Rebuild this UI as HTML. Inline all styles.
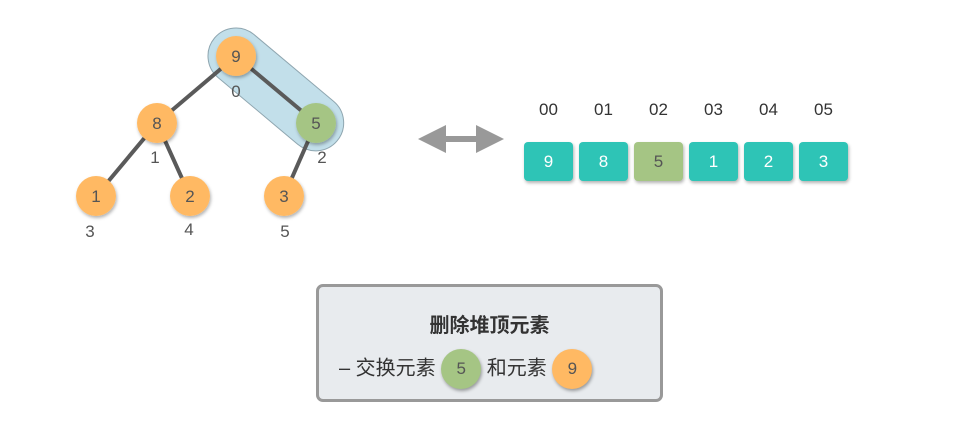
<!DOCTYPE html>
<html><head><meta charset="utf-8"><style>
body{margin:0;width:980px;height:443px;background:#fff;overflow:hidden;font-family:"Liberation Sans","Noto Sans CJK SC",sans-serif}
.box{position:absolute;top:142px;width:49px;height:39px;border-radius:4px;background:#2ec4b6;color:#fff;font-size:17px;line-height:39px;text-align:center;box-shadow:1px 2px 3px rgba(0,0,0,.3)}
.idx{position:absolute;top:100px;width:49px;text-align:center;font-size:17px;color:#333}
.panel{position:absolute;left:316px;top:284px;width:341px;height:112px;border:3px solid #999;border-radius:7px;background:#e8ebee}
.c{display:inline-block;width:40px;height:40px;border-radius:50%;text-align:center;line-height:40px;font-size:17px;color:#555;vertical-align:middle;box-shadow:1px 2px 3px rgba(0,0,0,.35)}
</style></head><body>
<svg width="980" height="443" style="position:absolute;left:0;top:0">
<defs><filter id="s" x="-30%" y="-30%" width="160%" height="160%"><feDropShadow dx="1" dy="2" stdDeviation="1.5" flood-opacity="0.3"/></filter></defs>
<rect x="-28" y="-28" width="160" height="56" rx="28" transform="translate(236,56) rotate(40)" fill="#c2dfea" stroke="#8fa6b0" stroke-width="1"/>
<g stroke="#5a5a5a" stroke-width="4">
<line x1="236" y1="56" x2="157" y2="123"/><line x1="236" y1="56" x2="316" y2="123"/>
<line x1="157" y1="123" x2="96" y2="196"/><line x1="157" y1="123" x2="190" y2="196"/>
<line x1="316" y1="123" x2="284" y2="196"/></g>
<g filter="url(#s)">
<circle cx="236" cy="56" r="20" fill="#ffb963"/><circle cx="157" cy="123" r="20" fill="#ffb963"/>
<circle cx="316" cy="123" r="20" fill="#a5c584"/><circle cx="96" cy="196" r="20" fill="#ffb963"/>
<circle cx="190" cy="196" r="20" fill="#ffb963"/><circle cx="284" cy="196" r="20" fill="#ffb963"/></g>
<g font-size="17" fill="#555" text-anchor="middle" font-family="Liberation Sans,sans-serif">
<text x="236" y="62">9</text><text x="157" y="129">8</text><text x="316" y="129">5</text>
<text x="96" y="202">1</text><text x="190" y="202">2</text><text x="284" y="202">3</text>
<text x="236" y="97">0</text><text x="155" y="163">1</text><text x="322" y="163">2</text>
<text x="90" y="237">3</text><text x="189" y="235">4</text><text x="285" y="237">5</text></g>
<polygon points="418,139 446,125 446,136 476,136 476,125 504,139 476,153 476,142 446,142 446,153" fill="#999"/>
</svg>
<div class="idx" style="left:524px">00</div><div class="idx" style="left:579px">01</div><div class="idx" style="left:634px">02</div><div class="idx" style="left:689px">03</div><div class="idx" style="left:744px">04</div><div class="idx" style="left:799px">05</div>
<div class="box" style="left:524px">9</div><div class="box" style="left:579px">8</div><div class="box" style="left:634px;background:#a5c584;color:#555">5</div><div class="box" style="left:689px">1</div><div class="box" style="left:744px">2</div><div class="box" style="left:799px">3</div>
<div class="panel">
<div style="position:absolute;top:22px;width:100%;text-align:center;font-size:20px;font-weight:bold;color:#333">删除堆顶元素</div>
<div style="position:absolute;top:62px;left:20px;font-size:20px;color:#333;white-space:nowrap">– 交换元素 <span class="c" style="background:#a5c584">5</span> 和元素 <span class="c" style="background:#ffb963">9</span></div>
</div>
</body></html>
